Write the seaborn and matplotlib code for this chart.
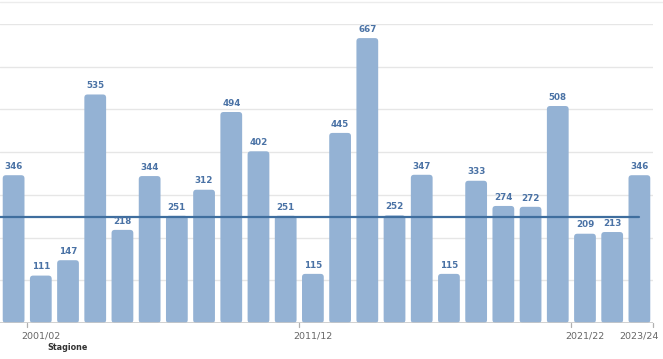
import matplotlib
matplotlib.use("Agg")
import matplotlib.pyplot as plt
from matplotlib.patches import FancyBboxPatch
import seaborn as sns
import pandas as pd

seasons = [f"{y}/{str(y + 1)[-2:]}" for y in range(2000, 2024)]
values = [346, 111, 147, 535, 218, 344, 251, 312, 494, 402, 251, 115,
          445, 667, 252, 347, 115, 333, 274, 272, 508, 209, 213, 346]
reference_level = 248
shown_labels = ["2001/02", "2011/12", "2021/22", "2023/24"]
axis_title = "Stagione"

df = pd.DataFrame({"Stagione": seasons, "Valore": values})

sns.set_theme(style="white")
plt.rcParams['font.family'] = ['DejaVu Sans']

fig = plt.figure(figsize=(6.63, 3.59), dpi=100)
ax = fig.add_axes([0.0, (359 - 323) / 359, 653 / 663, (323 - 24) / 359])

bar_color = "#94b2d4"
sns.barplot(data=df, x="Stagione", y="Valore", color=bar_color, width=0.8,
            saturation=1, ax=ax, zorder=3)

ax.set_xlim(-0.5, len(seasons) - 0.5)
ax.set_ylim(0, 700)

# rounded bars
px_x = 653 / len(seasons)
px_y = 299 / 700
r_px = 3.2
for p in list(ax.patches):
    x, y = p.get_x(), p.get_y()
    w, h = p.get_width(), p.get_height()
    fb = FancyBboxPatch((x, y), w, h,
                        boxstyle=f"round,pad=0,rounding_size={r_px / px_x}",
                        mutation_aspect=px_x / px_y,
                        facecolor=bar_color, edgecolor="none", zorder=3)
    p.remove()
    ax.add_patch(fb)

# value labels
for i, v in enumerate(values):
    ax.text(i, v + 10, str(v), ha="center", va="bottom", fontsize=6.3,
            fontweight="bold", color="#4a72a5", zorder=5)

# reference line
sns.lineplot(x=[-0.5, len(seasons) - 1], y=[reference_level, reference_level],
             color="#3f6e9e", linewidth=1.6, ax=ax, zorder=4)

# grid
for gy in range(100, 701, 100):
    ax.axhline(gy, color="#e6e6e6", linewidth=1, zorder=1)
ax.axhline(0, color="#c8c8c8", linewidth=1.2, zorder=4)

for s in ax.spines.values():
    s.set_visible(False)
ax.set_yticks([])
ax.set_ylabel("")
ax.set_xlabel("")

# x ticks: marks at bar boundaries, labels centered on bars
label_pos = [seasons.index(l) for l in shown_labels]
ax.set_xticks(label_pos)
ax.set_xticklabels(shown_labels, fontsize=6.8, color="#666666")
ax.tick_params(axis="x", length=0, pad=6)
tick_marks = [p - 0.5 for p in label_pos[:-1]] + [len(seasons) - 0.5]
for t in tick_marks:
    ax.plot([t, t], [0, -9], color="#b0b0b0", linewidth=0.9, clip_on=False, zorder=4)

fig.text(68 / 663, 1 - 348 / 359, axis_title, ha="center", va="center",
         fontsize=5.8, fontweight="bold", color="#333333")

# faint top border
fig.add_artist(plt.Line2D([0, 1], [1 - 1.5 / 359, 1 - 1.5 / 359],
                          color="#ececec", linewidth=1))

fig.savefig("out.png", dpi=100)
